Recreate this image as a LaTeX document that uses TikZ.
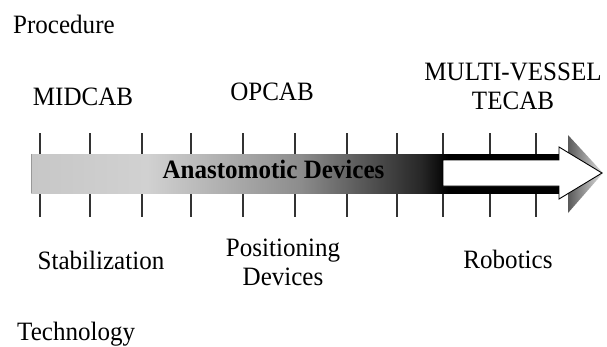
\documentclass[tikz,border=0pt]{standalone}
\usepackage{fontspec}
\setmainfont{Liberation Serif}
\definecolor{bcA}{gray}{0.78}
\definecolor{bcB}{gray}{0.82}
\definecolor{bcC}{gray}{0.55}
\definecolor{bcD}{gray}{0.15}
\pgfdeclarehorizontalshading{barsh}{100bp}{color(0bp)=(bcA); color(25bp)=(bcA); color(36bp)=(bcB); color(50.5bp)=(bcC); color(62bp)=(bcD); color(64.5bp)=(black); color(100bp)=(black)}
\begin{document}
\begin{tikzpicture}[x=1pt,y=-1pt,
  lbl/.style={inner sep=0pt, font=\fontsize{26.5}{29}\selectfont, xscale=0.945, transform shape},
  tickline/.style={draw=black!80, line width=1.1pt}]
\useasboundingbox (0,0) rectangle (607,346);
% ticks
\foreach \x in {40,90,142,191,243,295,347,397,443,490,536} {
  \draw[tickline] (\x,133) -- (\x,154);
  \draw[tickline] (\x,193) -- (\x,217);
}
% shadow of the arrow head
\shade[left color=black!65, right color=black!12] (568,135) -- (603,173) -- (568,213) -- cycle;
% bar
\shade[shading=barsh] (31,154) rectangle (559,193);
\draw[black!40, line width=0.6pt] (31,154) -- (31,193);
% white arrow
\filldraw[fill=white, draw=black, line width=0.9pt, line join=miter]
  (443,160) -- (559,160) -- (559,147) -- (602,173) -- (559,199) -- (559,186) -- (443,186) -- cycle;
% labels
\node[lbl, anchor=base west] (proc) at (13,33) {Procedure};
\node[lbl, anchor=base] (midcab) at (83,105) {MIDCAB};
\node[lbl, anchor=base] (opcab) at (272,100) {OPCAB};
\node[lbl, align=center] (tecab) at (513,86) {MULTI-VESSEL\\TECAB};
\node[lbl, font=\fontsize{26.5}{29}\selectfont\bfseries, anchor=base] (anast) at (273.5,178) {Anastomotic Devices};
\node[lbl, anchor=base] (stab) at (101,269) {Stabilization};
\node[lbl, align=center] (pos) at (283,262) {Positioning\\Devices};
\node[lbl, anchor=base] (robot) at (508,268) {Robotics};
\node[lbl, anchor=base west] (tech) at (17,340.5) {Technology};
\end{tikzpicture}
\end{document}
